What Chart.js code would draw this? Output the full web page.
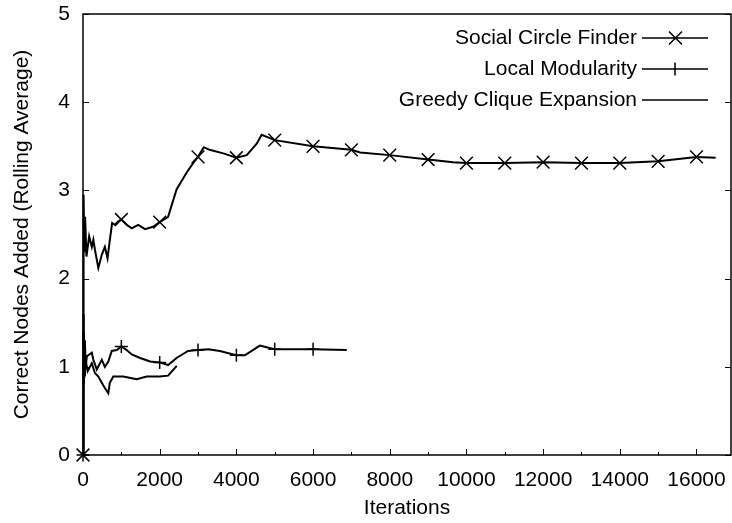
<!DOCTYPE html>
<html>
<head>
<meta charset="utf-8">
<script src="https://cdn.jsdelivr.net/npm/chart.js@4/dist/chart.umd.min.js"></script>
<style>
  html, body { margin: 0; padding: 0; background: #fff; }
  #wrap { width: 732px; height: 523px; }
</style>
</head>
<body>
<div id="wrap"><canvas id="grafico" width="732" height="523"></canvas></div>
<script>
// Dados (iterações x nós corretos adicionados, média móvel)
const scfIter = [0, 15, 35, 55, 90, 160, 230, 270, 310, 400, 490, 570, 640, 700, 760, 830, 920, 1000, 1140, 1270, 1440, 1620, 1840, 2000, 2220, 2440, 2700, 2890, 3000, 3150, 3300, 3660, 4000, 4270, 4530, 4660, 5000, 6000, 7000, 7230, 8000, 9000, 9650, 10000, 11000, 12000, 13000, 14000, 15000, 16000, 16500];
const scfValor = [0, 2.95, 2.3, 2.7, 2.25, 2.48, 2.36, 2.44, 2.33, 2.12, 2.27, 2.36, 2.23, 2.44, 2.63, 2.61, 2.65, 2.67, 2.61, 2.57, 2.61, 2.56, 2.59, 2.64, 2.7, 3.01, 3.2, 3.32, 3.38, 3.49, 3.46, 3.42, 3.37, 3.4, 3.53, 3.63, 3.57, 3.5, 3.46, 3.43, 3.4, 3.35, 3.32, 3.31, 3.31, 3.32, 3.31, 3.31, 3.33, 3.38, 3.37];

const lmIter = [0, 15, 30, 50, 70, 100, 230, 270, 360, 490, 570, 660, 750, 880, 1000, 1140, 1270, 1490, 1750, 2000, 2220, 2440, 2740, 3000, 3270, 3570, 4000, 4220, 4400, 4610, 5000, 6000, 6880];
const lmValor = [0, 1.6, 0.9, 1.3, 1.0, 1.12, 1.16, 1.08, 0.97, 1.08, 1.0, 1.06, 1.18, 1.19, 1.23, 1.19, 1.14, 1.1, 1.06, 1.05, 1.02, 1.1, 1.18, 1.19, 1.2, 1.18, 1.13, 1.13, 1.18, 1.24, 1.2, 1.2, 1.19];

const gceIter = [0, 20, 60, 120, 230, 310, 400, 490, 570, 660, 700, 790, 1050, 1400, 1660, 2000, 2220, 2445];
const gceValor = [1.4, 0.8, 1.1, 0.95, 1.04, 0.93, 0.89, 0.82, 0.76, 0.7, 0.82, 0.89, 0.89, 0.86, 0.89, 0.89, 0.9, 1.01];

const nomes = ["Social Circle Finder", "Local Modularity", "Greedy Clique Expansion"];
const xTicks = [0, 2000, 4000, 6000, 8000, 10000, 12000, 14000, 16000];
const yTicks = [0, 1, 2, 3, 4, 5];

const fonte = "'Liberation Sans', Arial, Helvetica, sans-serif";
const tamFonte = 21;

function pontos(xs, ys) {
  return xs.map((x, i) => ({ x: x, y: ys[i] }));
}

// marcador só a cada 1000 iterações
function raioMarcador(r) {
  return (ctx) => (ctx.raw && ctx.raw.x % 1000 === 0 ? r : 0);
}

// Moldura + ticks para dentro (estilo gnuplot) + legenda
const molduraPlugin = {
  id: "moldura",
  afterDatasetsDraw(chart) {
    const { ctx, chartArea: a, scales } = chart;
    ctx.save();
    ctx.strokeStyle = "#000";
    ctx.lineWidth = 1.5;
    ctx.strokeRect(a.left, a.top, a.right - a.left, a.bottom - a.top);

    ctx.lineWidth = 1;
    ctx.beginPath();
    for (let v = 0; v <= scales.x.max; v += 1000) {
      const px = Math.round(scales.x.getPixelForValue(v)) + 0.5;
      const len = v % 2000 === 0 ? 6 : 3;
      ctx.moveTo(px, a.bottom);
      ctx.lineTo(px, a.bottom - len);
    }
    yTicks.forEach((v) => {
      const py = Math.round(scales.y.getPixelForValue(v)) + 0.5;
      ctx.moveTo(a.left, py);
      ctx.lineTo(a.left + 6, py);
      ctx.moveTo(a.right, py);
      ctx.lineTo(a.right - 6, py);
    });
    ctx.stroke();

    // legenda
    ctx.font = tamFonte + "px " + fonte;
    ctx.textAlign = "right";
    ctx.textBaseline = "middle";
    ctx.fillStyle = "#000";
    const linhasY = [38, 69, 100];
    nomes.forEach((n, i) => {
      const y = linhasY[i];
      ctx.fillText(n, 637, y);
      ctx.lineWidth = 1.5;
      ctx.beginPath();
      ctx.moveTo(642, y);
      ctx.lineTo(708, y);
      if (i === 0) {
        ctx.moveTo(669, y - 6.5); ctx.lineTo(682, y + 6.5);
        ctx.moveTo(669, y + 6.5); ctx.lineTo(682, y - 6.5);
      } else if (i === 1) {
        ctx.moveTo(675, y - 6.5); ctx.lineTo(675, y + 6.5);
      }
      ctx.stroke();
    });
    ctx.restore();
  },
};

const ctx = document.getElementById("grafico").getContext("2d");
const grafico = new Chart(ctx, {
  type: "line",
  data: {
    datasets: [
      {
        label: nomes[0],
        data: pontos(scfIter, scfValor),
        borderColor: "#000",
        borderWidth: 2,
        pointStyle: "crossRot",
        pointRadius: raioMarcador(9),
        pointBorderWidth: 1.5,
        pointBorderColor: "#000",
        tension: 0,
        clip: false,
      },
      {
        label: nomes[1],
        data: pontos(lmIter, lmValor),
        borderColor: "#000",
        borderWidth: 2,
        pointStyle: "cross",
        pointRadius: raioMarcador(6.5),
        pointBorderWidth: 1.5,
        pointBorderColor: "#000",
        tension: 0,
        clip: false,
      },
      {
        label: nomes[2],
        data: pontos(gceIter, gceValor),
        borderColor: "#000",
        borderWidth: 2,
        pointRadius: 0,
        tension: 0,
        clip: false,
      },
    ],
  },
  options: {
    responsive: false,
    animation: false,
    events: [],
    layout: { autoPadding: false, padding: { top: 14, right: 1, left: 0, bottom: 0 } },
    plugins: { legend: { display: false }, tooltip: { enabled: false } },
    scales: {
      x: {
        type: "linear",
        min: 0,
        max: 16900,
        afterBuildTicks: (s) => { s.ticks = xTicks.map((v) => ({ value: v })); },
        afterFit: (s) => {
          s.height = 68;
          s.paddingLeft = 0;
          s.paddingRight = 0;
        },
        grid: { display: false, drawTicks: false },
        border: { display: false },
        ticks: {
          color: "#000",
          padding: 13,
          maxRotation: 0,
          autoSkip: false,
          callback: (v) => String(v),
          font: { family: fonte, size: tamFonte },
        },
        title: {
          display: true,
          text: "Iterations",
          color: "#000",
          padding: { top: 0, bottom: 2 },
          font: { family: fonte, size: tamFonte },
        },
      },
      y: {
        min: 0,
        max: 5,
        afterBuildTicks: (s) => { s.ticks = yTicks.map((v) => ({ value: v })); },
        afterFit: (s) => {
          s.width = 83;
          s.paddingTop = 0;
          s.paddingBottom = 0;
        },
        grid: { display: false, drawTicks: false },
        border: { display: false },
        ticks: {
          color: "#000",
          padding: 13,
          font: { family: fonte, size: tamFonte },
        },
        title: {
          display: true,
          text: "Correct Nodes Added (Rolling Average)",
          color: "#000",
          padding: { top: 10, bottom: 0 },
          font: { family: fonte, size: tamFonte },
        },
      },
    },
  },
  plugins: [molduraPlugin],
});
</script>
</body>
</html>
